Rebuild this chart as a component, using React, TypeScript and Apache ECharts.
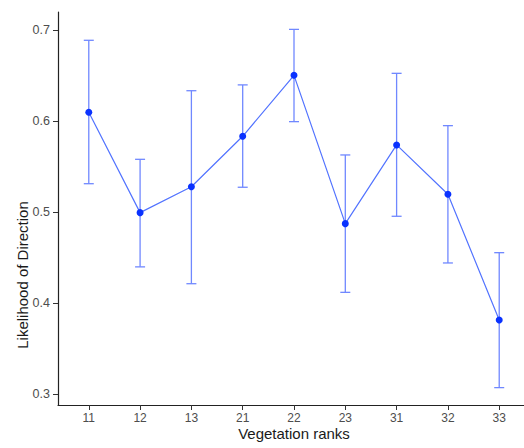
import React, { useEffect, useRef } from "react";
import * as echarts from "echarts";

const categories = ["11", "12", "13", "21", "22", "23", "31", "32", "33"];
const means = [0.61, 0.4996, 0.528, 0.5835, 0.6505, 0.4875, 0.574, 0.5198, 0.3817];
const lower = [0.5314, 0.44, 0.4215, 0.5275, 0.5996, 0.412, 0.4956, 0.4443, 0.3073];
const upper = [0.689, 0.5582, 0.6336, 0.64, 0.701, 0.563, 0.6527, 0.5952, 0.4556];
const yTicks = [0.3, 0.4, 0.5, 0.6, 0.7];
const xTitle = "Vegetation ranks";
const yTitle = "Likelihood of Direction";

export default function App() {
  const ref = useRef<HTMLDivElement>(null);
  useEffect(() => {
    if (!ref.current) return;
    const chart = echarts.init(ref.current, null, { renderer: "svg" });
    const idx = categories.map((_, i) => i);
    const font = "Liberation Sans, Arial, sans-serif";
    chart.setOption({
      animation: false,
      backgroundColor: "#ffffff",
      grid: { left: 58, width: 472, top: 12, bottom: 43, containLabel: false, outerBoundsMode: "none" },
      xAxis: {
        type: "value",
        min: -0.6,
        max: 8.6,
        splitLine: { show: false },
        axisLine: { show: true, onZero: false, lineStyle: { color: "#222", width: 1.2 } },
        axisTick: { show: true, length: 5, customValues: idx, lineStyle: { color: "#333", width: 1 } },
        axisLabel: {
          customValues: idx,
          formatter: (v: number) => categories[Math.round(v)] ?? "",
          color: "#4d4d4d",
          fontSize: 12,
          fontFamily: font,
          margin: 7,
        },
      },
      yAxis: {
        type: "value",
        min: 0.2882,
        max: 0.7201,
        splitLine: { show: false },
        axisLine: { show: true, onZero: false, lineStyle: { color: "#222", width: 1.2 } },
        axisTick: { show: true, length: 5, customValues: yTicks, lineStyle: { color: "#333", width: 1 } },
        axisLabel: {
          customValues: yTicks,
          formatter: (v: number) => v.toFixed(1),
          color: "#4d4d4d",
          fontSize: 12.5,
          fontFamily: font,
          margin: 8,
        },
      },
      graphic: [
        {
          type: "text",
          x: 294,
          y: 433,
          style: { text: xTitle, fontSize: 15, fontFamily: font, fill: "#1a1a1a", align: "center", verticalAlign: "middle" },
        },
        {
          type: "group",
          x: 22,
          y: 275,
          rotation: Math.PI / 2,
          children: [
            {
              type: "text",
              x: 0,
              y: 0,
              style: { text: yTitle, fontSize: 15, fontFamily: font, fill: "#1a1a1a", align: "center", verticalAlign: "middle" },
            },
          ],
        },
      ],
      series: [
        {
          type: "custom",
          data: idx.map((i) => [i, lower[i], upper[i]]),
          renderItem: (params: any, api: any) => {
            const x = api.value(0);
            const lo = api.coord([x, api.value(1)]);
            const hi = api.coord([x, api.value(2)]);
            const style = { stroke: "#7088ff", lineWidth: 1.3 };
            const hw = 5;
            return {
              type: "group",
              children: [
                { type: "line", shape: { x1: lo[0], y1: lo[1], x2: hi[0], y2: hi[1] }, style },
                { type: "line", shape: { x1: hi[0] - hw, y1: hi[1], x2: hi[0] + hw, y2: hi[1] }, style },
                { type: "line", shape: { x1: lo[0] - hw, y1: lo[1], x2: lo[0] + hw, y2: lo[1] }, style },
              ],
            };
          },
          z: 1,
        },
        {
          type: "line",
          data: idx.map((i) => [i, means[i]]),
          symbol: "circle",
          symbolSize: 7,
          lineStyle: { color: "#5273ff", width: 1.2 },
          itemStyle: { color: "#0a32ff" },
          z: 2,
        },
      ],
    });
    return () => chart.dispose();
  }, []);
  return <div ref={ref} style={{ position: "fixed", left: 0, top: 0, width: 524, height: 448 }} />;
}
